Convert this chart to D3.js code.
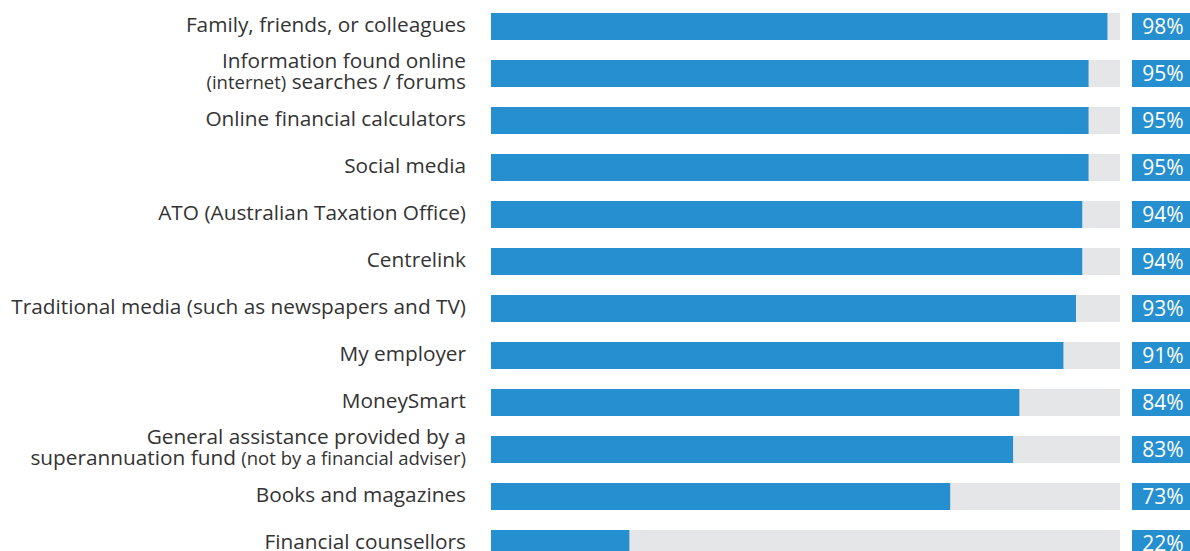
<!DOCTYPE html>
<html>
<head>
<meta charset="utf-8">
<script src="https://cdn.jsdelivr.net/npm/d3@7"></script>
<style>
  html, body { margin: 0; padding: 0; background: #ffffff; }
  svg { display: block; }
  .label { font-family: "Open Sans", sans-serif; fill: #333333; }
  .value { font-family: "Open Sans", sans-serif; fill: #ffffff; }
</style>
</head>
<body>
<svg id="chart" width="1190" height="551"></svg>
<script>
// Sources of information, share of respondents (%)
// Text inside {braces} is set in a smaller size.
const categories = [
  ["Family, friends, or colleagues"],
  ["Information found online", "{(internet)} searches / forums"],
  ["Online financial calculators"],
  ["Social media"],
  ["ATO (Australian Taxation Office)"],
  ["Centrelink"],
  ["Traditional media (such as newspapers and TV)"],
  ["My employer"],
  ["MoneySmart"],
  ["General assistance provided by a", "superannuation fund {(not by a financial adviser)}"],
  ["Books and magazines"],
  ["Financial counsellors"]
];
const values = [98, 95, 95, 95, 94, 94, 93, 91, 84, 83, 73, 22];
const valueMax = 100;

const width = 1190, height = 551;
const barLeft = 491, barRight = 1120;
const boxLeft = 1132, boxRight = 1190;
const labelRight = 466;
const blue = "#268fd0", track = "#e5e6e7";
const fontSize = 20.8, smallSize = 18.5;

const svg = d3.select("#chart");

const y = d3.scaleBand()
  .domain(d3.range(categories.length))
  .range([3, 3 + 47 * categories.length])
  .paddingInner(20 / 47)
  .paddingOuter(10 / 47);

const x = d3.scaleLinear().domain([0, valueMax]).range([barLeft, barRight]);

const rows = svg.selectAll("g.row")
  .data(categories.map((c, i) => ({ lines: c, value: values[i], i })))
  .join("g")
  .attr("class", "row");

// background track
rows.append("rect")
  .attr("x", x(0))
  .attr("y", d => y(d.i))
  .attr("width", x(valueMax) - x(0))
  .attr("height", y.bandwidth())
  .attr("fill", track);

// value bar
rows.append("rect")
  .attr("x", x(0))
  .attr("y", d => y(d.i))
  .attr("width", d => x(d.value) - x(0))
  .attr("height", y.bandwidth())
  .attr("fill", blue);

// value box
rows.append("rect")
  .attr("x", boxLeft)
  .attr("y", d => y(d.i))
  .attr("width", boxRight - boxLeft)
  .attr("height", y.bandwidth())
  .attr("fill", blue);

rows.append("text")
  .attr("class", "value")
  .attr("x", (boxLeft + boxRight) / 2 + 2)
  .attr("y", d => y(d.i) + y.bandwidth() / 2 + 7.5)
  .attr("text-anchor", "middle")
  .attr("font-size", 21)
  .text(d => d.value + "%");

// category labels (one or two lines, with optional smaller segments)
rows.each(function (d) {
  const g = d3.select(this);
  const cy = y(d.i) + y.bandwidth() / 2;
  const baselines = d.lines.length === 1 ? [cy + 5.5] : [cy - 6, cy + 15];
  d.lines.forEach((line, li) => {
    const t = g.append("text")
      .attr("class", "label")
      .attr("x", labelRight)
      .attr("y", baselines[li])
      .attr("text-anchor", "end")
      .attr("font-size", fontSize);
    const parts = line.split(/(\{[^}]*\})/).filter(s => s.length);
    parts.forEach(p => {
      const small = p.startsWith("{");
      t.append("tspan")
        .attr("font-size", small ? smallSize : fontSize)
        .text(small ? p.slice(1, -1) : p);
    });
  });
});
</script>
</body>
</html>
